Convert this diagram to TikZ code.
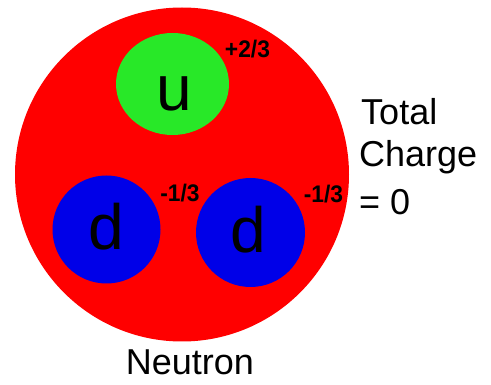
\documentclass[tikz,border=0pt]{standalone}
\usepackage{fontspec}
\setmainfont{Liberation Sans}
\definecolor{nred}{RGB}{255,0,0}
\definecolor{ngreen}{RGB}{40,232,40}
\definecolor{nblue}{RGB}{0,0,232}
\tikzset{
  quark/.style={inner sep=0pt, anchor=base, font=\fontsize{64}{64}\selectfont},
  chg/.style={inner sep=0pt, anchor=base, font=\fontsize{24}{24}\selectfont\bfseries},
  lbl/.style={inner sep=0pt, font=\fontsize{36}{36}\selectfont}
}
\begin{document}
\begin{tikzpicture}[x=1pt,y=-1pt]
\useasboundingbox (0,0) rectangle (491,385);
\fill[nred] (182,174.5) circle (167);
\fill[ngreen] (172.5,84) ellipse [x radius=56.5, y radius=51];
\fill[nblue] (106.5,229.5) circle (54);
\fill[nblue] (250.5,232.5) circle (54.5);
\node[quark] (u) at (174.5,111) {u};
\node[quark] (d1) at (106,250) {d};
\node[quark] (d2) at (248.5,253) {d};
\node[chg, xscale=0.95] (cu) at (247.5,58) {+2/3};
\node[chg, xscale=0.95] (cd1) at (180,202) {-1/3};
\node[chg, xscale=0.95] (cd2) at (323.5,203) {-1/3};
\node[lbl, anchor=base west] (t1) at (361,125) {Total};
\node[lbl, anchor=base west] (t2) at (359,167) {Charge};
\node[lbl, anchor=base west] (t3) at (359,215) {= 0};
\node[lbl, anchor=base] (n) at (190,375) {Neutron};
\end{tikzpicture}
\end{document}
